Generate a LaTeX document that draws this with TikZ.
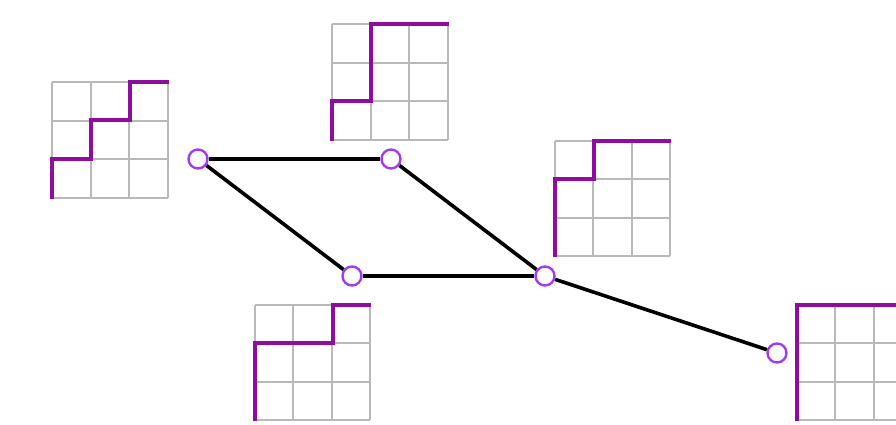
\documentclass[tikz,border=0pt]{standalone}
\begin{document}
\begin{tikzpicture}[x=1pt,y=-1pt,
  gridline/.style={draw=gray!55, line width=2pt},
  pathline/.style={draw=pathpurple, line width=4pt, line cap=butt, line join=miter},
  edge/.style={draw=black, line width=3.6pt},
  vtx/.style={circle, draw=vtxviolet, fill=white, line width=2.4pt, minimum size=19pt, inner sep=0pt}]
\definecolor{pathpurple}{HTML}{8E0C9E}
\definecolor{vtxviolet}{HTML}{A33BF0}
\path[use as bounding box, fill=white] (0,0) rectangle (896,424);
\begin{scope}
\clip (0,0) rectangle (896,424);
% grid 1
\foreach \i in {0,1,2,3}{
  \draw[gridline] (52+38.67*\i,82) -- (52+38.67*\i,198);
  \draw[gridline] (52,82+38.67*\i) -- (168,82+38.67*\i);}
\draw[pathline] (52,199) -- (52,159) -- (91,159) -- (91,120) -- (130,120) -- (130,82) -- (169,82);
% grid 2
\foreach \i in {0,1,2,3}{
  \draw[gridline] (332+38.67*\i,24) -- (332+38.67*\i,140);
  \draw[gridline] (332,24+38.67*\i) -- (448,24+38.67*\i);}
\draw[pathline] (332,141) -- (332,101) -- (371,101) -- (371,24) -- (449,24);
% grid 3
\foreach \i in {0,1,2,3}{
  \draw[gridline] (255+38.33*\i,305) -- (255+38.33*\i,420);
  \draw[gridline] (255,305+38.33*\i) -- (370,305+38.33*\i);}
\draw[pathline] (255,421) -- (255,343) -- (333,343) -- (333,305) -- (371,305);
% grid 4
\foreach \i in {0,1,2,3}{
  \draw[gridline] (555+38.33*\i,141) -- (555+38.33*\i,256);
  \draw[gridline] (555,141+38.33*\i) -- (670,141+38.33*\i);}
\draw[pathline] (555,257) -- (555,179) -- (594,179) -- (594,141) -- (671,141);
% grid 5
\foreach \i in {0,1,2,3}{
  \draw[gridline] (797+38.33*\i,305) -- (797+38.33*\i,420);
  \draw[gridline] (797,305+38.33*\i) -- (912,305+38.33*\i);}
\draw[pathline] (797,421) -- (797,305) -- (913,305);
\end{scope}
% graph
\node[vtx] (a) at (198,159) {};
\node[vtx] (b) at (391,159) {};
\node[vtx] (c) at (352,276) {};
\node[vtx] (d) at (545,276) {};
\node[vtx] (e) at (777,353) {};
\draw[edge] (a) -- (b);
\draw[edge] (a) -- (c);
\draw[edge] (b) -- (d);
\draw[edge] (c) -- (d);
\draw[edge] (d) -- (e);
\end{tikzpicture}
\end{document}
